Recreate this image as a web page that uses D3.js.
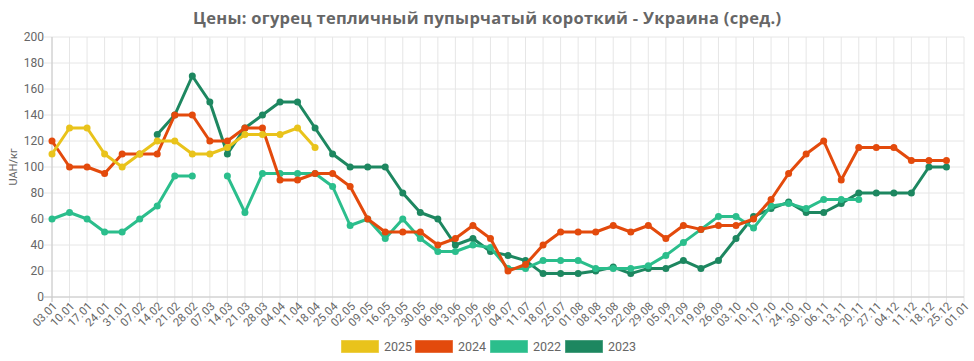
<!DOCTYPE html>
<html>
<head>
<meta charset="utf-8">
<script src="https://cdn.jsdelivr.net/npm/d3@7"></script>
<style>
  body { margin: 0; background: #fff; }
  svg { display: block; font-family: Roboto, "Noto Sans", sans-serif; }
</style>
</head>
<body>
<div id="chart"></div>
<script>
// week labels
var weeks = ["03.01","10.01","17.01","24.01","31.01","07.02","14.02","21.02","28.02","07.03",
  "14.03","21.03","28.03","04.04","11.04","18.04","25.04","02.05","09.05","16.05",
  "23.05","30.05","06.06","13.06","20.06","27.06","04.07","11.07","18.07","25.07",
  "01.08","08.08","15.08","22.08","29.08","05.09","12.09","19.09","26.09","03.10",
  "10.10","17.10","24.10","30.10","06.11","13.11","20.11","27.11","04.12","11.12",
  "18.12","25.12","01.01"];

var yTicks = [0, 20, 40, 60, 80, 100, 120, 140, 160, 180, 200];

var _ = null;
var v2025 = [110,130,130,110,100,110,120,120,110,110,115,125,125,125,130,115];
var v2024 = [120,100,100,95,110,110,110,140,140,120,120,130,130,90,90,95,95,85,60,50,
  50,50,40,45,55,45,20,25,40,50,50,50,55,50,55,45,55,52,55,55,
  60,75,95,110,120,90,115,115,115,105,105,105];
var v2022 = [60,65,60,50,50,60,70,93,93,_,93,65,95,95,95,95,85,55,60,45,
  60,45,35,35,40,38,22,22,28,28,28,22,22,22,24,32,42,52,62,62,
  53,70,72,68,75,75,75];
var v2023 = [_,_,_,_,_,_,125,140,170,150,110,130,140,150,150,130,110,100,100,100,
  80,65,60,40,45,35,32,28,18,18,18,20,23,18,22,22,28,22,28,45,
  62,68,73,65,65,72,80,80,80,80,100,100];

var series = [
  {name: "2025", values: v2025, color: "#e9c31b"},
  {name: "2024", values: v2024, color: "#e34a0c"},
  {name: "2022", values: v2022, color: "#2bbe8c"},
  {name: "2023", values: v2023, color: "#1d8760"}
];

var width = 974, height = 361;
var pLeft = 52, pRight = 964, pTop = 37, pBottom = 297;

var svg = d3.select("#chart").append("svg")
  .attr("width", width)
  .attr("height", height);

var x = d3.scalePoint().domain(weeks).range([pLeft, pRight]);
var y = d3.scaleLinear().domain([0, 200]).range([pBottom, pTop]);

// grid
svg.append("g").selectAll("line").data(weeks).enter().append("line")
  .attr("x1", d => x(d)).attr("x2", d => x(d))
  .attr("y1", pTop).attr("y2", pBottom + 5)
  .attr("stroke", "#e6e6e6");

svg.append("g").selectAll("line").data(yTicks).enter().append("line")
  .attr("x1", pLeft - 8).attr("x2", pRight)
  .attr("y1", d => y(d)).attr("y2", d => y(d))
  .attr("stroke", "#e6e6e6");

// axes lines
svg.append("line").attr("x1", pLeft).attr("x2", pLeft).attr("y1", pTop).attr("y2", pBottom + 5)
  .attr("stroke", "#c8c8c8");
svg.append("line").attr("x1", pLeft - 8).attr("x2", pRight).attr("y1", pBottom).attr("y2", pBottom)
  .attr("stroke", "#c8c8c8");

// y tick labels
svg.append("g").selectAll("text").data(yTicks).enter().append("text")
  .attr("x", pLeft - 8).attr("y", d => y(d)).attr("dy", "0.35em")
  .attr("text-anchor", "end")
  .attr("font-size", 12).attr("fill", "#666")
  .text(d => d);

// x tick labels
svg.append("g").selectAll("text").data(weeks).enter().append("text")
  .attr("transform", d => "translate(" + (x(d) + 3) + "," + (pBottom + 7) + ") rotate(-45)")
  .attr("dy", "0.35em")
  .attr("text-anchor", "end")
  .attr("font-size", 11.5).attr("fill", "#666")
  .text(d => d);

// y label
svg.append("text")
  .attr("transform", "translate(13," + ((pTop + pBottom) / 2) + ") rotate(-90)")
  .attr("text-anchor", "middle").attr("dy", "0.35em")
  .attr("font-size", 11).attr("fill", "#666")
  .text("UAH/кг");

// title
svg.append("text")
  .attr("x", width / 2).attr("y", 24)
  .attr("text-anchor", "middle")
  .attr("font-family", "'Open Sans', sans-serif")
  .attr("font-weight", "bold").attr("font-size", 16.5).attr("fill", "#666")
  .attr("textLength", 588).attr("lengthAdjust", "spacing")
  .text("Цены: огурец тепличный пупырчатый короткий - Украина (сред.)");

var line = d3.line()
  .defined(d => d != null)
  .x((d, i) => x(weeks[i]))
  .y(d => y(d));

// draw first dataset on top
series.slice().reverse().forEach(function (s) {
  svg.append("path")
    .attr("d", line(s.values))
    .attr("fill", "none")
    .attr("stroke", s.color)
    .attr("stroke-width", 3)
    .attr("stroke-linejoin", "round");

  svg.append("g").selectAll("circle")
    .data(s.values.map((v, i) => ({v: v, i: i})).filter(d => d.v != null))
    .enter().append("circle")
    .attr("cx", d => x(weeks[d.i]))
    .attr("cy", d => y(d.v))
    .attr("r", 3.5)
    .attr("fill", s.color);
});

// legend
var legendX = [341, 415, 490, 565];
var lg = svg.append("g").selectAll("g").data(series).enter().append("g")
  .attr("transform", (d, i) => "translate(" + legendX[i] + ",340)");
lg.append("rect").attr("width", 38).attr("height", 13)
  .attr("fill", d => d.color)
  .attr("stroke", "#fff").attr("stroke-opacity", 0.4);
lg.append("text").attr("x", 43).attr("y", 7).attr("dy", "0.35em")
  .attr("font-size", 12.5).attr("fill", "#666")
  .text(d => d.name);
</script>
</body>
</html>
